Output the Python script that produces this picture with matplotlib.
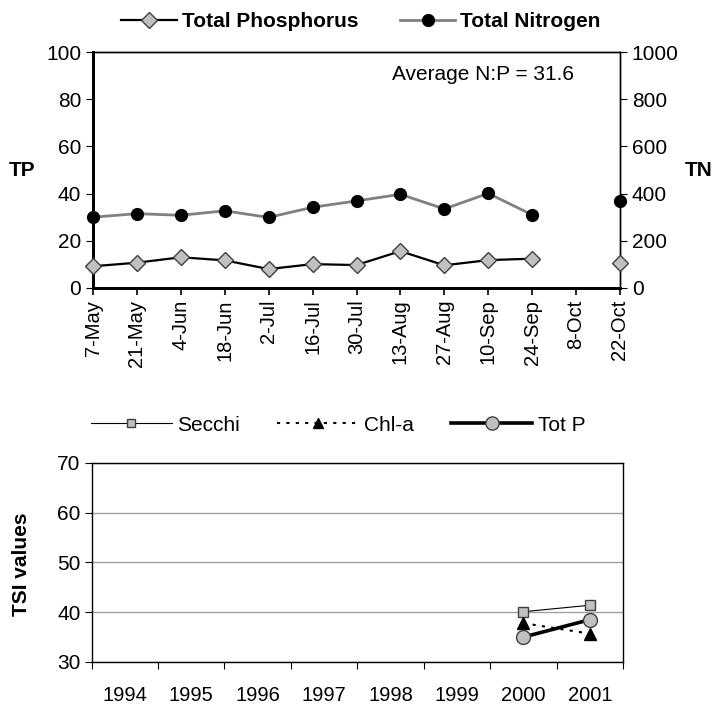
import numpy as np
import matplotlib
matplotlib.use("Agg")
import matplotlib.pyplot as plt
from matplotlib.lines import Line2D

plt.rcParams['font.family'] = ['Liberation Sans', 'DejaVu Sans']

dates = ["7-May", "21-May", "4-Jun", "18-Jun", "2-Jul", "16-Jul", "30-Jul",
         "13-Aug", "27-Aug", "10-Sep", "24-Sep", "8-Oct", "22-Oct"]
tp = [9.2, 10.7, 13.0, 11.7, 8.0, 10.1, 9.7, 15.6, 9.6, 11.8, 12.4, np.nan, 10.7]
tn = [300, 315, 308, 327, 299, 342, 369, 397, 335, 401, 310, np.nan, 369]

years = ["1994", "1995", "1996", "1997", "1998", "1999", "2000", "2001"]
secchi = [np.nan, np.nan, np.nan, np.nan, np.nan, np.nan, 40.1, 41.4]
chla = [np.nan, np.nan, np.nan, np.nan, np.nan, np.nan, 37.8, 35.7]
totp = [np.nan, np.nan, np.nan, np.nan, np.nan, np.nan, 35.0, 38.5]

FS = 15

fig = plt.figure(figsize=(7.13, 7.04), dpi=100)

# ---- Top chart ----
ax = fig.add_axes([93 / 713, 0.591, (620 - 93) / 713, 0.335])
ax2 = ax.twinx()
x = np.arange(len(dates))
ax2.plot(x, tn, color='#808080', lw=2, marker='o', ms=8.5, mfc='black', mec='black', zorder=3, clip_on=False)
ax.plot(x, tp, color='black', lw=1.6, marker='D', ms=8, mfc='#c0c0c0', mec='#404040', mew=1, zorder=3, clip_on=False)
ax.set_zorder(ax2.get_zorder() + 1)
ax.patch.set_visible(False)
ax.set_xlim(0, len(dates) - 1)
ax.set_ylim(0, 100)
ax2.set_ylim(0, 1000)
ax.set_yticks(range(0, 101, 20))
ax2.set_yticks(range(0, 1001, 200))
ax.set_xticks(x)
ax.set_xticklabels(dates, rotation=90, fontsize=14.5)
ax.tick_params(axis='y', labelsize=FS, length=5, direction='out')
ax2.tick_params(axis='y', labelsize=FS, length=5, direction='out')
ax.tick_params(axis='x', length=5, width=1.2)
for a in (ax, ax2):
    a.spines['left'].set_linewidth(2)
    a.spines['bottom'].set_linewidth(2)
    a.spines['top'].set_linewidth(1)
    a.spines['right'].set_linewidth(1)
fig.text(22 / 713, 1 - 170 / 704, "TP", fontsize=FS, fontweight='bold', ha='center', va='center')
fig.text(699 / 713, 1 - 170 / 704, "TN", fontsize=FS, fontweight='bold', ha='center', va='center')
fig.text(392 / 713, 1 - 75 / 704, "Average N:P = 31.6", fontsize=FS, ha='left', va='center')

h1 = Line2D([], [], color='black', lw=1.6, marker='D', ms=8, mfc='#c0c0c0', mec='#404040')
h2 = Line2D([], [], color='#808080', lw=2, marker='o', ms=8.5, mfc='black', mec='black')
fig.legend([h1, h2], ["Total Phosphorus", "Total Nitrogen"], loc='center', bbox_to_anchor=(361 / 713, 0.969),
           ncol=2, frameon=False, prop={'weight': 'bold', 'size': FS}, handlelength=2.65,
           handletextpad=0.25, columnspacing=2.0, borderpad=0, borderaxespad=0)

# ---- Bottom chart ----
bx = fig.add_axes([91.5 / 713, 0.0597, (623 - 91.5) / 713, 0.2827])
xb = np.arange(len(years)) + 0.5
bx.plot(xb, secchi, color='black', lw=0.8, marker='s', ms=7, mfc='#c0c0c0', mec='#404040', zorder=3)
bx.plot(xb, chla, color='black', lw=1.5, ls=(0, (1.5, 3)), marker='^', ms=8, mfc='black', mec='black', zorder=3)
bx.plot(xb, totp, color='black', lw=2.6, marker='o', ms=10, mfc='#c0c0c0', mec='#404040', mew=1, zorder=4)
bx.set_xlim(0, len(years))
bx.set_ylim(30, 70)
bx.set_yticks(range(30, 71, 10))
bx.yaxis.grid(True, color='#a0a0a0', lw=1)
bx.set_axisbelow(True)
bx.set_xticks(np.arange(len(years) + 1))
bx.set_xticklabels([])
bx.set_xticks(xb, minor=True)
bx.set_xticklabels(years, minor=True, fontsize=14.5)
bx.tick_params(axis='x', which='minor', length=0, pad=17)
bx.tick_params(axis='x', which='major', length=5)
bx.tick_params(axis='y', labelsize=FS, length=5, pad=3)
for s in bx.spines.values():
    s.set_linewidth(1)
fig.text(22 / 713, 1 - 564 / 704, "TSI values", fontsize=15, fontweight='bold', rotation=90,
         ha='center', va='center')

g1 = Line2D([], [], color='black', lw=0.8, marker='s', ms=6, mfc='#c0c0c0', mec='#404040')
g2 = Line2D([], [], color='black', lw=1.5, ls=(0, (1.5, 3)), marker='^', ms=7.5, mfc='black', mec='black')
g3 = Line2D([], [], color='black', lw=2.6, marker='o', ms=9.5, mfc='#c0c0c0', mec='#404040')
fig.legend([g1, g2, g3], ["Secchi", "Chl-a", "Tot P"], loc='center', bbox_to_anchor=(338 / 713, 0.396),
           ncol=3, frameon=False, prop={'size': FS}, handlelength=3.9,
           handletextpad=0.25, columnspacing=1.8, borderpad=0, borderaxespad=0)

fig.savefig("out.png", dpi=100)
